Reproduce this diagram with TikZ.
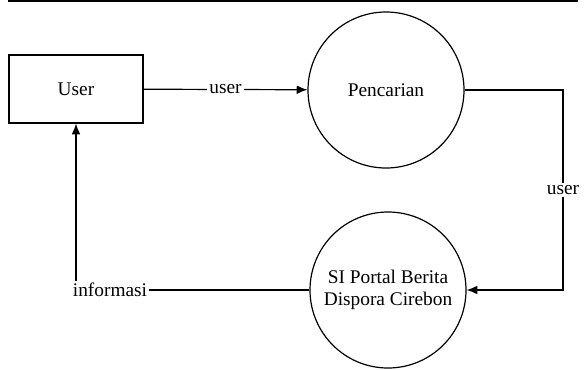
\documentclass[tikz,border=0pt]{standalone}
\usepackage{fontspec}
\setmainfont{Liberation Serif}
\newfontfamily\dfdfont{Liberation Serif}
\usepackage{tikz}
\usetikzlibrary{arrows.meta}

\begin{document}
\begin{tikzpicture}[x=0.75pt, y=-0.75pt, >={Latex[length=8pt,width=6.5pt]},
    font=\dfdfont\fontsize{14.5}{16}\selectfont,
    ent/.style={draw, line width=0.9pt, minimum width=100.5pt, minimum height=51pt},
    proc/.style={draw, circle, line width=0.9pt, minimum size=117pt, inner sep=0pt, align=center},
    flow/.style={->, line width=0.9pt},
    lbl/.style={fill=white, inner sep=1.5pt}]
    \useasboundingbox (0,0) rectangle (584,369);

    % Top rule
    \draw[line width=1.5pt] (8,1) -- (578,1);

    % Entity
    \node[ent] (user) at (76,89) {User};

    % Processes
    \node[proc] (srch) at (386,90) {Pencarian};
    \node[proc] (sys) at (388,290) {SI Portal Berita\\Dispora Cirebon};

    % Flows
    \draw[flow] (user) -- node[lbl] (usr1) {user} (srch);
    \coordinate (rc) at (563,90);
    \draw[flow] (srch.east) -- (rc) |- node[lbl, pos=0.25] (usr2) {user} (sys.east);
    \draw[flow] (sys.west) -| (user.south);

    % Labels
    \node[lbl] (info) at (110,290) {informasi};
\end{tikzpicture}
\end{document}
